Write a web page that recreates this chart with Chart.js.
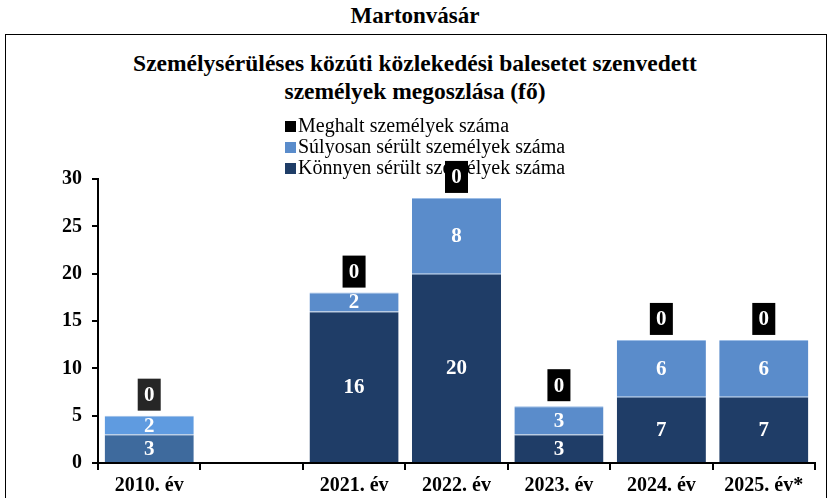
<!DOCTYPE html>
<html>
<head>
<meta charset="utf-8">
<script src="https://cdn.jsdelivr.net/npm/chart.js@4.4.1/dist/chart.umd.min.js"></script>
<style>
  body { margin: 0; background: #fff; font-family: "Liberation Serif", "Times New Roman", serif; }
  #place { position: absolute; left: 0; top: 3px; width: 830px; text-align: center; font-weight: bold; font-size: 23px; }
  #frame { position: absolute; left: 5px; top: 34px; width: 820px; height: 480px; border: 1px solid #000; }
  #title { position: absolute; left: 0; top: 49px; width: 830px; text-align: center; font-weight: bold; font-size: 23.5px; line-height: 28px; }
  #wrap { position: absolute; left: 0; top: 0; width: 830px; height: 498px; }
</style>
</head>
<body>
<div id="place">Martonvásár</div>
<div id="frame"></div>
<div id="title">Személysérüléses közúti közlekedési balesetet szenvedett<br>személyek megoszlása (fő)</div>
<div id="wrap"><canvas id="chart" width="830" height="498"></canvas></div>
<script>
const categories = ['2010. év', '', '2021. év', '2022. év', '2023. év', '2024. év', '2025. év*'];
const konnyen = [3, null, 16, 20, 3, 7, 7];
const sulyos = [2, null, 2, 8, 3, 6, 6];
const meghalt = [0, null, 0, 0, 0, 0, 0];
const seriesNames = ['Könnyen sérült személyek száma', 'Súlyosan sérült személyek száma', 'Meghalt személyek száma'];

const darkBlue = ['#3e6a9d', '#1f3d67', '#1f3d67', '#1f3d67', '#1f3d67', '#1f3d67', '#1f3d67'];
const lightBlue = ['#5f9be0', '#5a8ccb', '#5a8ccb', '#5a8ccb', '#5a8ccb', '#5a8ccb', '#5a8ccb'];
const boxColor = ['#262626', '#000', '#000', '#000', '#000', '#000', '#000'];

const serif = '"Liberation Serif", "Times New Roman", serif';

// legend drawn under the marks so the "0" boxes can cover it
const legendPlugin = {
  id: 'ownLegend',
  beforeDraw(chart) {
    const ctx = chart.ctx;
    const items = [
      [seriesNames[2], '#000'],
      [seriesNames[1], '#5a8ccb'],
      [seriesNames[0], '#1f3d67']
    ];
    ctx.save();
    ctx.font = '20px ' + serif;
    ctx.textBaseline = 'middle';
    items.forEach((it, i) => {
      const y = 126 + i * 21;
      ctx.fillStyle = it[1];
      ctx.fillRect(285, y - 5, 11, 11);
      ctx.fillStyle = '#000';
      ctx.fillText(it[0], 298, y + 1);
    });
    ctx.restore();
  }
};

const labelPlugin = {
  id: 'barLabels',
  afterDatasetsDraw(chart) {
    const ctx = chart.ctx;
    ctx.save();
    ctx.font = 'bold 21px ' + serif;
    ctx.textAlign = 'center';
    ctx.textBaseline = 'middle';
    [0, 1].forEach(di => {
      const ds = chart.data.datasets[di];
      chart.getDatasetMeta(di).data.forEach((bar, i) => {
        const v = ds.data[i];
        if (v == null) return;
        const p = bar.getProps(['x', 'y', 'base'], true);
        ctx.fillStyle = '#fff';
        ctx.fillText(String(v), p.x, (p.y + p.base) / 2 + 1);
      });
    });
    const ds = chart.data.datasets[2];
    chart.getDatasetMeta(2).data.forEach((bar, i) => {
      const v = ds.data[i];
      if (v == null) return;
      const p = bar.getProps(['x', 'y'], true);
      const w = 23, h = 32, bottom = p.y - 5;
      ctx.fillStyle = boxColor[i];
      ctx.fillRect(p.x - w / 2, bottom - h, w, h);
      ctx.fillStyle = '#fff';
      ctx.fillText(String(v), p.x, bottom - h / 2 + 1);
    });
    ctx.restore();
  }
};

new Chart(document.getElementById('chart'), {
  type: 'bar',
  data: {
    labels: categories,
    datasets: [
      { label: seriesNames[0], data: konnyen, backgroundColor: darkBlue, borderColor: '#6d8fbb', borderWidth: { top: 1 } },
      { label: seriesNames[1], data: sulyos, backgroundColor: lightBlue, borderColor: '#9cbde6', borderWidth: { top: 1 } },
      { label: seriesNames[2], data: meghalt, backgroundColor: '#000' }
    ]
  },
  options: {
    responsive: false,
    animation: false,
    devicePixelRatio: 1,
    barPercentage: 0.87,
    categoryPercentage: 1,
    layout: { padding: { top: 179, right: 15, left: 0, bottom: 0 } },
    plugins: { legend: { display: false }, tooltip: { enabled: false } },
    scales: {
      x: {
        stacked: true,
        afterFit(scale) { scale.height = 35; },
        grid: { display: true, drawOnChartArea: false, drawTicks: true, tickLength: 7, color: '#000', lineWidth: 2, offset: true },
        border: { display: true, color: '#000', width: 2 },
        ticks: { color: '#000', font: { family: serif, size: 20, weight: 'bold' }, padding: 4, maxRotation: 0, autoSkip: false }
      },
      y: {
        stacked: true,
        min: 0,
        max: 30,
        afterFit(scale) { scale.width = 98; },
        grid: { display: true, drawOnChartArea: false, drawTicks: true, tickLength: 6, color: '#000', lineWidth: 2 },
        border: { display: true, color: '#000', width: 2 },
        ticks: { stepSize: 5, color: '#000', font: { family: serif, size: 20, weight: 'bold' }, padding: 10 }
      }
    }
  },
  plugins: [legendPlugin, labelPlugin]
});
</script>
</body>
</html>
